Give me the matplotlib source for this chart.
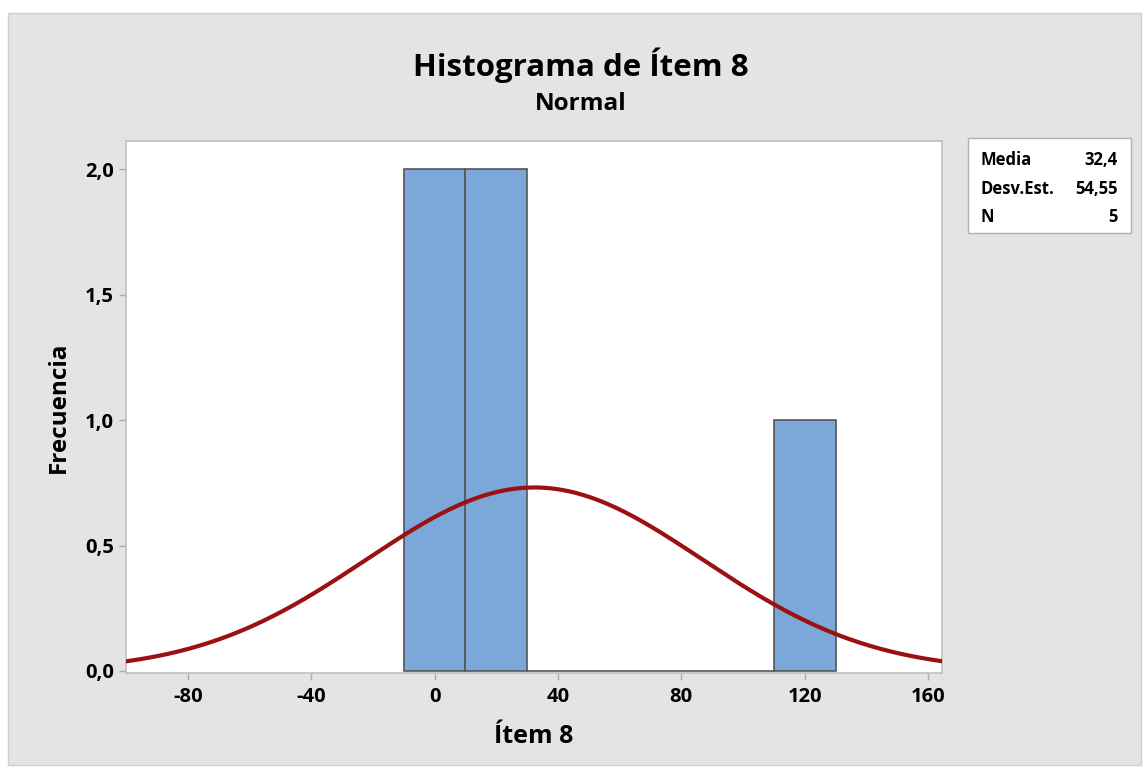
import numpy as np
import matplotlib.pyplot as plt
from matplotlib.patches import Rectangle

# histogram bins (left edges) and counts
bin_left = [-10, 10, 30, 50, 70, 90, 110]
bin_width = 20
counts = [2, 2, 0, 0, 0, 0, 1]

# fitted normal parameters shown in the legend
media = 32.4
desv = 54.55
n = 5

plt.rcParams['font.family'] = ['Open Sans', 'DejaVu Sans']
plt.rcParams['font.weight'] = 'bold'
plt.rcParams['axes.unicode_minus'] = False

fig = plt.figure(figsize=(11.43, 7.69), dpi=100)
fig.patch.set_facecolor('white')
fig.patches.append(Rectangle((8 / 1143, 4 / 769), 1133 / 1143, 752 / 769,
                             transform=fig.transFigure, facecolor='#e4e4e4',
                             edgecolor='#cfcfcf', lw=1, zorder=-10))

ax = fig.add_axes([126 / 1143, 1 - 673 / 769, 816 / 1143, 532 / 769])
ax.set_facecolor('white')

ax.bar(bin_left, counts, width=bin_width, align='edge', color='#7ba7d9',
       edgecolor='#555555', linewidth=1.2, zorder=2)

xs = np.linspace(-100, 165, 400)
ys = n * bin_width / (desv * np.sqrt(2 * np.pi)) * np.exp(-0.5 * ((xs - media) / desv) ** 2)
ax.plot(xs, ys, color='#9b1010', lw=3, zorder=3)

ax.set_xlim(-100, 164.5)
ax.set_ylim(-0.008, 2.112)
ax.set_xticks([-80, -40, 0, 40, 80, 120, 160])
ax.set_yticks([0, 0.5, 1.0, 1.5, 2.0])
ax.set_yticklabels(['0,0', '0,5', '1,0', '1,5', '2,0'])
ax.tick_params(axis='both', labelsize=14.5, color='#aaaaaa', length=5, width=1)
ax.tick_params(axis='x', pad=5)
for s in ax.spines.values():
    s.set_color('#c0c0c0')
    s.set_linewidth(1.2)

ax.set_xlabel('Ítem 8', fontsize=18, fontweight='bold', labelpad=12)
ax.set_ylabel('Frecuencia', fontsize=17.5, fontweight='bold', labelpad=10)

fig.text(0.508, 1 - 65 / 769, 'Histograma de Ítem 8', ha='center', va='center',
         fontsize=22.5, fontweight='bold')
fig.text(0.508, 1 - 104 / 769, 'Normal', ha='center', va='center',
         fontsize=17.5, fontweight='bold')

# legend box with statistics
fig.patches.append(Rectangle((968 / 1143, 1 - 233 / 769), 163 / 1143, 95 / 769,
                             transform=fig.transFigure, facecolor='white',
                             edgecolor='#b0b0b0', lw=1, zorder=5))
rows = [('Media', '32,4'), ('Desv.Est.', '54,55'), ('N', '5')]
for i, (k, v) in enumerate(rows):
    y = 1 - (160 + i * 28.5) / 769
    fig.text(981 / 1143, y, k, ha='left', va='center', fontsize=12, fontweight='bold', zorder=6)
    fig.text(1118 / 1143, y, v, ha='right', va='center', fontsize=12, fontweight='bold', zorder=6)

fig.savefig('out.png', dpi=100)
